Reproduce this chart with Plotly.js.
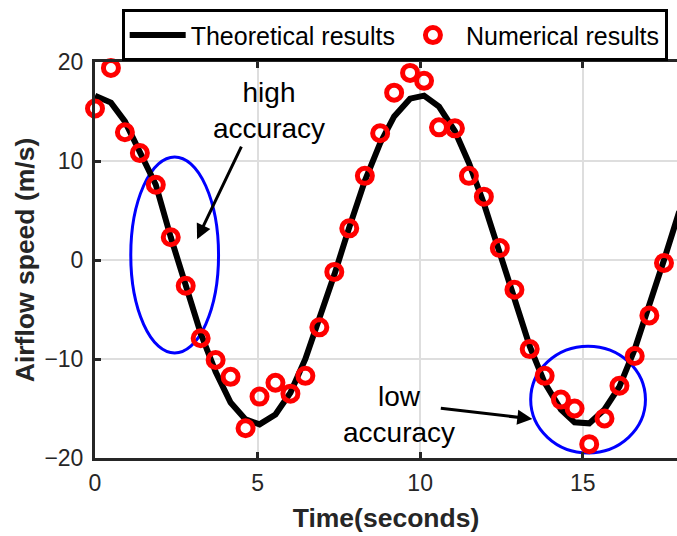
<!DOCTYPE html>
<html>
<head>
<meta charset="utf-8">
<script src="https://cdn.plot.ly/plotly-3.0.1.min.js"></script>
<style>html,body{margin:0;padding:0;overflow:hidden;background:#fff;}</style>
</head>
<body>
<div id="chart" style="width:677px;height:536px;"></div>
<script>
// Sample times (seconds)
const timeS = [0, 0.49, 0.92, 1.38, 1.87, 2.33, 2.79, 3.25, 3.71, 4.17, 4.63, 5.06, 5.55, 6.01, 6.47, 6.9, 7.36, 7.82, 8.3, 8.77, 9.2, 9.69, 10.12, 10.58, 11.07, 11.5, 11.96, 12.45, 12.9, 13.37, 13.83, 14.33, 14.75, 15.2, 15.67, 16.13, 16.6, 17.05, 17.5, 17.97];
// Theoretical airflow speed (m/s)
const theoretical = [16.6, 15.9, 14.0, 10.8, 7.6, 2.3, -2.6, -7.4, -11.3, -14.4, -16.1, -16.6, -15.6, -13.4, -10.0, -6.1, -1.5, 3.3, 8.0, 11.8, 14.5, 16.3, 16.6, 15.5, 13.0, 9.8, 5.7, 0.7, -4.1, -8.7, -12.4, -15.1, -16.4, -16.5, -15.1, -12.8, -9.0, -4.6, 0.0, 4.9];
// Numerical airflow speed (m/s)
const numerical = [15.3, 19.4, 12.9, 10.8, 7.6, 2.3, -2.6, -7.9, -10.1, -11.8, -17.0, -13.8, -12.4, -13.5, -11.7, -6.8, -1.2, 3.2, 8.5, 12.8, 16.9, 18.9, 18.1, 13.4, 13.3, 8.5, 6.4, 1.2, -3.0, -9.0, -11.7, -14.1, -15.0, -18.6, -16.0, -12.7, -9.7, -5.6, -0.3, 4.0];
const seriesNames = ["Theoretical results", "Numerical results"];
const xTicks = [0, 5, 10, 15];
const yTicks = [-20, -10, 0, 10, 20];
const xLabel = "Time(seconds)";
const yLabel = "Airflow speed (m/s)";
const noteHigh = "high<br>accuracy";
const noteLow = "low<br>accuracy";

const FONT = "Liberation Sans, Arial, Helvetica, sans-serif";
const AX = "#262626";

const traces = [
  {x: timeS, y: theoretical, type: "scatter", mode: "lines", name: seriesNames[0],
   line: {color: "#000000", width: 6}, cliponaxis: true},
  {x: timeS, y: numerical, type: "scatter", mode: "markers", name: seriesNames[1],
   marker: {symbol: "circle-open", size: 15, color: "#ff0000", line: {width: 5, color: "#ff0000"}},
   cliponaxis: false}
];

const axisCommon = {
  showline: true, linecolor: AX, linewidth: 3,
  ticks: "inside", ticklen: 6, tickwidth: 3, tickcolor: AX,
  showgrid: true, gridcolor: "#dedede", gridwidth: 2,
  zeroline: false,
  tickfont: {family: FONT, size: 23, color: AX}
};

const layout = {
  width: 677, height: 536,
  margin: {l: 95, r: 0, t: 62, b: 78},
  paper_bgcolor: "#ffffff", plot_bgcolor: "#ffffff",
  font: {family: FONT, color: "#000"},
  xaxis: Object.assign({}, axisCommon, {
    range: [0, 17.9], tickvals: xTicks, mirror: "ticks", ticklabelstandoff: 2,
    title: {text: xLabel, font: {family: FONT, size: 26.5, color: AX, weight: "bold"}, standoff: 14}
  }),
  yaxis: Object.assign({}, axisCommon, {
    range: [-20, 20], tickvals: yTicks, ticklabelstandoff: 4,
    title: {text: yLabel, font: {family: FONT, size: 26.5, color: AX, weight: "bold"}, standoff: 3}
  }),
  showlegend: true,
  legend: {
    orientation: "h", x: 0.984, xanchor: "right", y: 1.133, yanchor: "top",
    bgcolor: "#ffffff", bordercolor: "#000000", borderwidth: 3,
    itemwidth: 56,
    font: {family: FONT, size: 25, color: "#000"}
  },
  shapes: [
    {type: "circle", xref: "x", yref: "y", x0: 1.1, x1: 3.8, y0: -9.4, y1: 10.4,
     line: {color: "#0000ff", width: 3}, layer: "between"},
    {type: "circle", xref: "x", yref: "y", x0: 13.4, x1: 16.93, y0: -19.5, y1: -8.7,
     line: {color: "#0000ff", width: 3}, layer: "between"}
  ],
  annotations: [
    {x: 5.36, y: 15.1, xref: "x", yref: "y", text: noteHigh, showarrow: false,
     font: {family: FONT, size: 28, color: "#000"}, align: "center"},
    {x: 9.35, y: -15.6, xref: "x", yref: "y", text: noteLow, showarrow: false,
     font: {family: FONT, size: 28, color: "#000"}, align: "center"},
    {x: 3.14, y: 2.1, xref: "x", yref: "y", text: "", showarrow: true,
     ax: 45, ay: -94, arrowhead: 2, arrowsize: 1, arrowwidth: 3, arrowcolor: "#000", standoff: 0},
    {x: 13.45, y: -16.06, xref: "x", yref: "y", text: "", showarrow: true,
     ax: -93, ay: -11, arrowhead: 2, arrowsize: 1, arrowwidth: 3, arrowcolor: "#000", standoff: 0}
  ]
};

Plotly.newPlot("chart", traces, layout, {displayModeBar: false, staticPlot: true});
</script>
</body>
</html>
